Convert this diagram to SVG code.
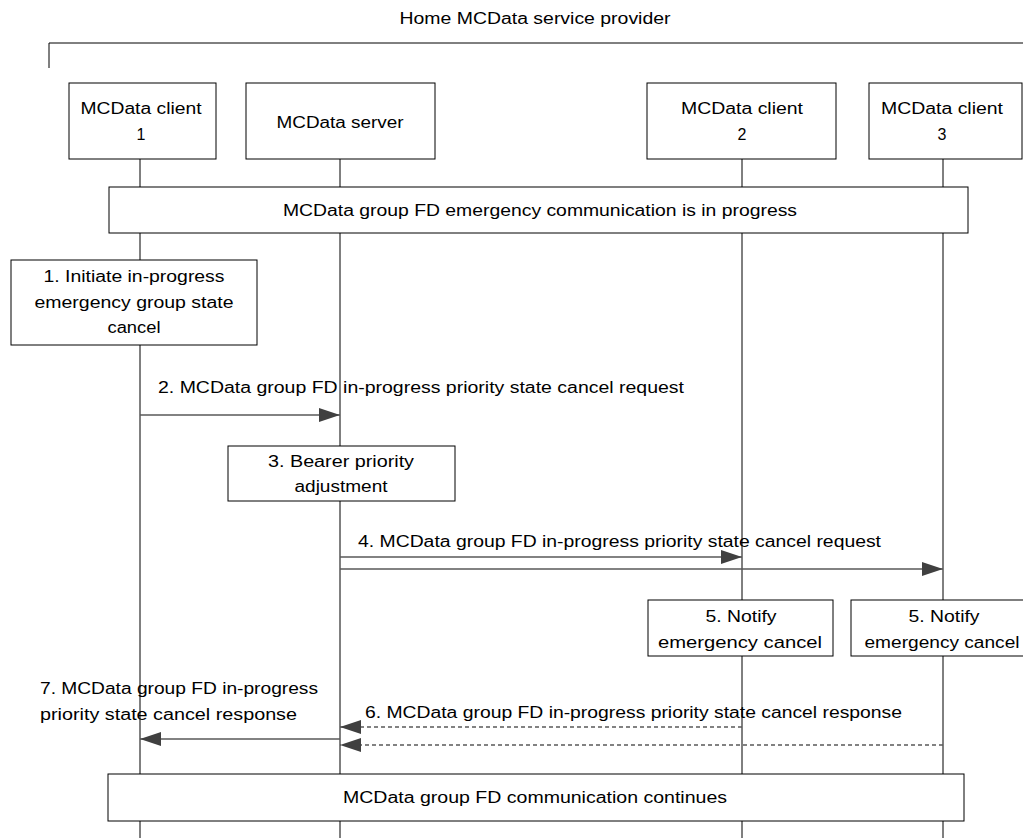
<svg xmlns="http://www.w3.org/2000/svg" width="1023" height="838" viewBox="0 0 1023 838">
<style>
text{font-family:"Liberation Sans",Arial,sans-serif;font-size:16px;fill:#000}
.c{text-anchor:middle}
.box{fill:#fff;stroke:#000;stroke-width:1}
.life{stroke:#000;stroke-width:1}
.msg{stroke:#595959;stroke-width:1.3;fill:none}
.dash{stroke:#595959;stroke-width:1.3;fill:none;stroke-dasharray:4 3}
</style>
<defs>
<marker id="ah" markerUnits="userSpaceOnUse" markerWidth="22" markerHeight="14" refX="21" refY="7" orient="auto">
<path d="M0,0 L21,7 L0,14 z" fill="#404040"/>
</marker>
</defs>
<rect width="1023" height="838" fill="#fff"/>
<g id="frame">
<text class="c" x="535" y="24" textLength="271" lengthAdjust="spacingAndGlyphs">Home MCData service provider</text>
<path d="M49,68 V43 H1023" fill="none" stroke="#000" stroke-width="1"/>
</g>
<g id="lifelines">
<line class="life" x1="140" y1="159" x2="140" y2="838"/>
<line class="life" x1="340" y1="159" x2="340" y2="838"/>
<line class="life" x1="742" y1="159" x2="742" y2="838"/>
<line class="life" x1="943" y1="159" x2="943" y2="838"/>
</g>
<g id="client1">
<rect class="box" x="69" y="83" width="147" height="76"/>
<text class="c" x="141" y="114" textLength="121" lengthAdjust="spacingAndGlyphs">MCData client</text>
<text class="c" x="141" y="140">1</text>
</g>
<g id="server">
<rect class="box" x="246" y="83" width="189" height="76"/>
<text class="c" x="340" y="128" textLength="127" lengthAdjust="spacingAndGlyphs">MCData server</text>
</g>
<g id="client2">
<rect class="box" x="647" y="83" width="189" height="76"/>
<text class="c" x="742" y="114" textLength="122" lengthAdjust="spacingAndGlyphs">MCData client</text>
<text class="c" x="742" y="140">2</text>
</g>
<g id="client3">
<rect class="box" x="869" y="83" width="153" height="76"/>
<text class="c" x="942" y="114" textLength="122" lengthAdjust="spacingAndGlyphs">MCData client</text>
<text class="c" x="942" y="140">3</text>
</g>
<g id="banner1">
<rect class="box" x="109" y="187" width="859" height="46"/>
<text class="c" x="540" y="216" textLength="514" lengthAdjust="spacingAndGlyphs">MCData group FD emergency communication is in progress</text>
</g>
<g id="step1">
<rect class="box" x="11" y="260" width="246" height="85"/>
<text class="c" x="134" y="282" textLength="181" lengthAdjust="spacingAndGlyphs">1. Initiate in-progress</text>
<text class="c" x="134" y="308" textLength="199" lengthAdjust="spacingAndGlyphs">emergency group state</text>
<text class="c" x="134" y="333" textLength="53" lengthAdjust="spacingAndGlyphs">cancel</text>
</g>
<g id="step3">
<rect class="box" x="228" y="446" width="227" height="55"/>
<text class="c" x="341" y="467" textLength="146" lengthAdjust="spacingAndGlyphs">3. Bearer priority</text>
<text class="c" x="341" y="492" textLength="93" lengthAdjust="spacingAndGlyphs">adjustment</text>
</g>
<g id="step5a">
<rect class="box" x="648" y="600" width="185" height="56"/>
<text class="c" x="741" y="622" textLength="71" lengthAdjust="spacingAndGlyphs">5. Notify</text>
<text class="c" x="740" y="648" textLength="164" lengthAdjust="spacingAndGlyphs">emergency cancel</text>
</g>
<g id="step5b">
<rect class="box" x="851" y="600" width="175" height="56"/>
<text class="c" x="944" y="622" textLength="71" lengthAdjust="spacingAndGlyphs">5. Notify</text>
<text class="c" x="942" y="648" textLength="155" lengthAdjust="spacingAndGlyphs">emergency cancel</text>
</g>
<g id="banner2">
<rect class="box" x="108" y="774" width="856" height="47"/>
<text class="c" x="535" y="803" textLength="384" lengthAdjust="spacingAndGlyphs">MCData group FD communication continues</text>
</g>
<g id="connectors">
<line class="msg" x1="140" y1="415" x2="340" y2="415" marker-end="url(#ah)"/>
<text x="158" y="393" textLength="526" lengthAdjust="spacingAndGlyphs">2. MCData group FD in-progress priority state cancel request</text>
<line class="msg" x1="340" y1="557" x2="742" y2="557" marker-end="url(#ah)"/>
<line class="msg" x1="340" y1="569" x2="943" y2="569" marker-end="url(#ah)"/>
<text x="358" y="547" textLength="523" lengthAdjust="spacingAndGlyphs">4. MCData group FD in-progress priority state cancel request</text>
<line class="dash" x1="742" y1="727" x2="340" y2="727" marker-end="url(#ah)"/>
<line class="dash" x1="943" y1="745" x2="340" y2="745" marker-end="url(#ah)"/>
<text x="365" y="718" textLength="537" lengthAdjust="spacingAndGlyphs">6. MCData group FD in-progress priority state cancel response</text>
<line class="msg" x1="340" y1="739" x2="140" y2="739" marker-end="url(#ah)"/>
<text x="40" y="694" textLength="278" lengthAdjust="spacingAndGlyphs">7. MCData group FD in-progress</text>
<text x="40" y="720" textLength="257" lengthAdjust="spacingAndGlyphs">priority state cancel response</text>
</g>
</svg>
